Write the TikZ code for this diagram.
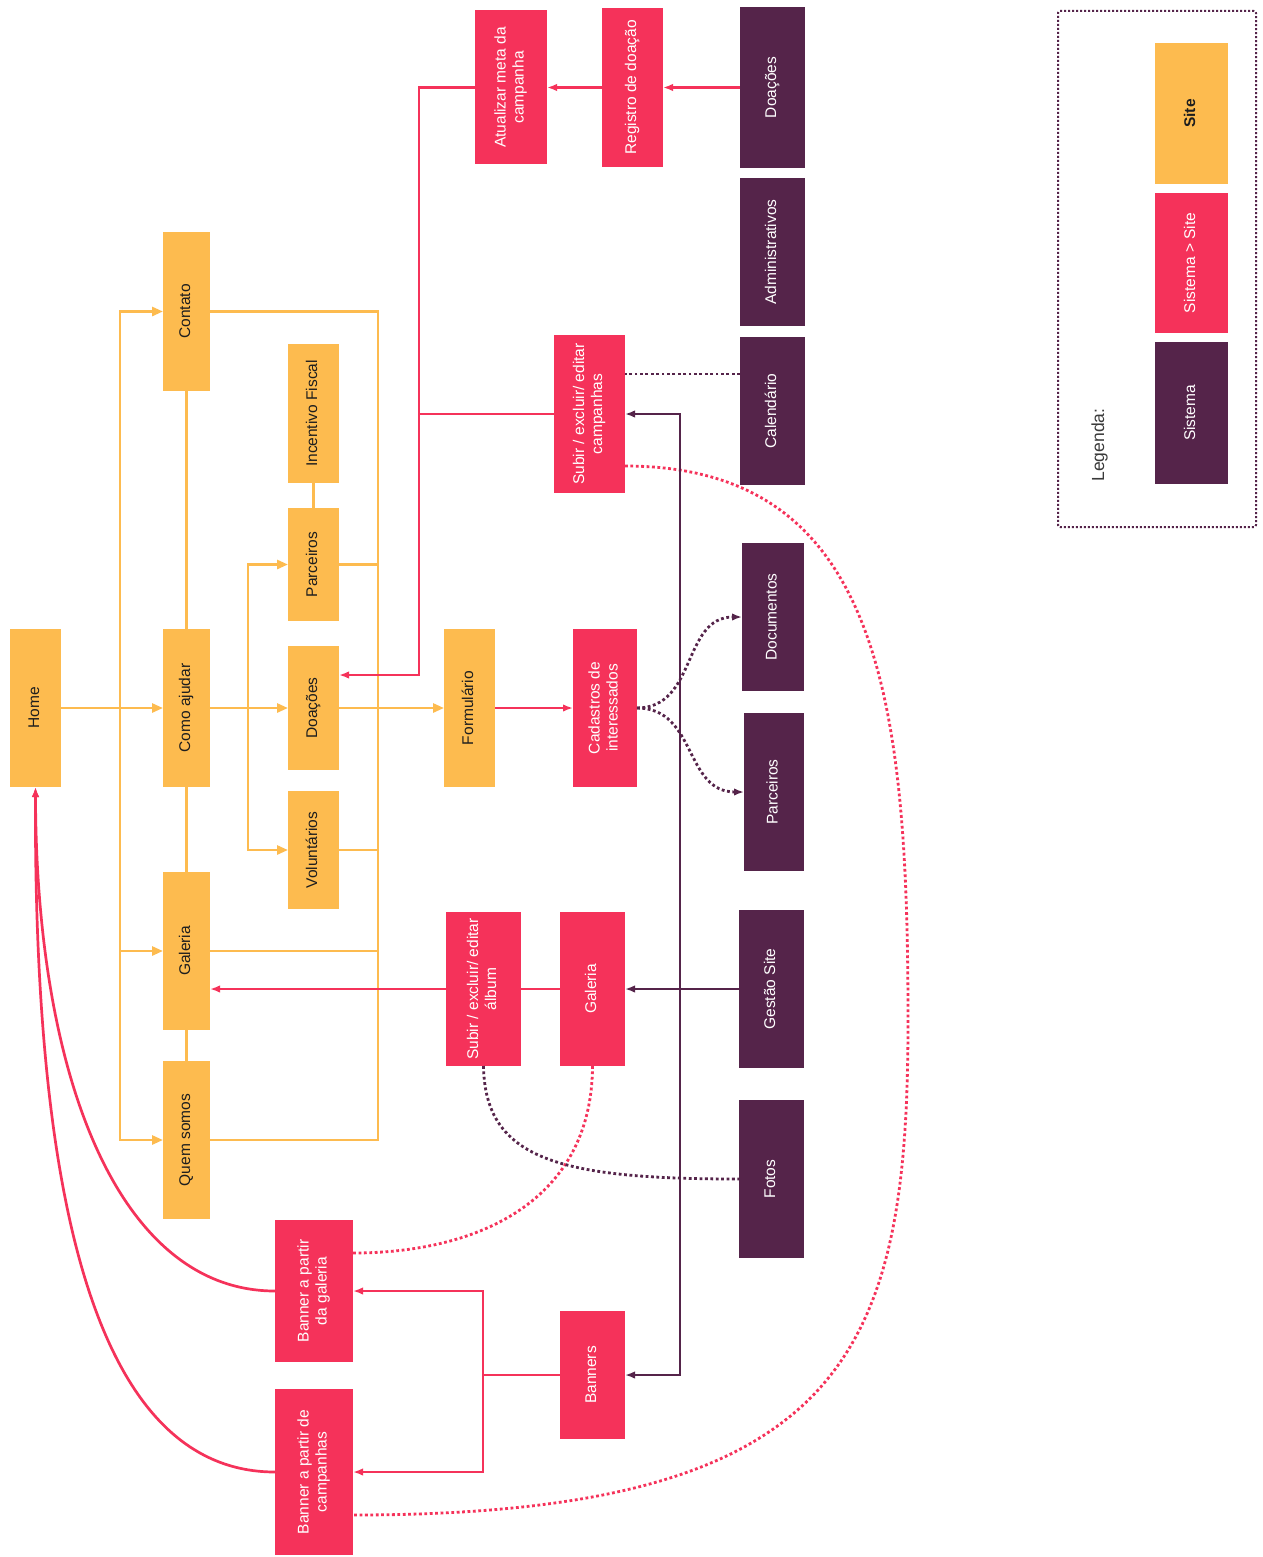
\documentclass[tikz,border=0pt]{standalone}
\usepackage{fontspec}
\setmainfont{Liberation Sans}
\usetikzlibrary{arrows.meta,calc}
\definecolor{cY}{HTML}{FDBB4F}
\definecolor{cR}{HTML}{F5325A}
\definecolor{cP}{HTML}{55244A}
\definecolor{cT}{HTML}{1E1E1E}
\definecolor{cG}{HTML}{3A3A3A}
\newcommand{\rt}[1]{\rotatebox{90}{\begin{tabular}{@{}c@{}}#1\end{tabular}}}
\begin{document}
\begin{tikzpicture}[x=1pt,y=-1pt,
  every node/.style={font=\fontsize{15.5}{18}\selectfont},
  box/.style={rectangle, inner sep=0pt, outer sep=0pt},
  ys/.style={box, fill=cY, text=cT},
  rs/.style={box, fill=cR, text=white},
  ps/.style={box, fill=cP, text=white},
  yl/.style={draw=cY, line width=2.7pt},
  yarr/.style={yl, -{Triangle[length=11pt,width=9pt]}},
  rl/.style={draw=cR, line width=2.7pt},
  rarr/.style={rl, -{Latex[length=10pt,width=7.5pt]}},
  pl/.style={draw=cP, line width=2.5pt},
  parr/.style={pl, -{Latex[length=10pt,width=7.5pt]}},
  rdot/.style={draw=cR, line width=2.8pt, dash pattern=on 2.8pt off 2.6pt},
  pdot/.style={draw=cP, line width=2.8pt, dash pattern=on 2.8pt off 2.6pt},
  pdotarr/.style={pdot, -{Latex[length=10pt,width=7.5pt]}},
]
\useasboundingbox (0,0) rectangle (1262,1557);
\fill[white] (0,0) rectangle (1262,1557);

% ---- Site (yellow) ----
\node[ys, minimum width=51pt, minimum height=158pt] (home) at (35.5,708) {\rt{Home}};
\node[ys, minimum width=47pt, minimum height=158pt] (como) at (186.5,708) {\rt{Como ajudar}};
\node[ys, minimum width=47pt, minimum height=159pt] (contato) at (186.5,311.5) {\rt{Contato}};
\node[ys, minimum width=47pt, minimum height=158pt] (galY) at (186.5,951) {\rt{Galeria}};
\node[ys, minimum width=47pt, minimum height=158pt] (quem) at (186.5,1140) {\rt{Quem somos}};
\node[ys, minimum width=51pt, minimum height=139pt] (incent) at (313.5,413.5) {\rt{Incentivo Fiscal}};
\node[ys, minimum width=51pt, minimum height=113pt] (parcY) at (313.5,564.5) {\rt{Parceiros}};
\node[ys, minimum width=51pt, minimum height=124pt] (doaY) at (313.5,708) {\rt{Doações}};
\node[ys, minimum width=51pt, minimum height=118pt] (volY) at (313.5,850) {\rt{Voluntários}};
\node[ys, minimum width=51pt, minimum height=158pt] (form) at (469.5,708) {\rt{Formulário}};

% ---- Sistema > Site (red) ----
\node[rs, minimum width=72pt, minimum height=154pt] (atu) at (511,87.5) {\rt{Atualizar meta da\\campanha}};
\node[rs, minimum width=61pt, minimum height=159pt] (reg) at (632.5,87.5) {\rt{Registro de doação}};
\node[rs, minimum width=71pt, minimum height=158pt] (camp) at (589.5,414) {\rt{Subir / excluir/ editar\\campanhas}};
\node[rs, minimum width=64pt, minimum height=158pt] (cad) at (605,708) {\rt{Cadastros de\\interessados}};
\node[rs, minimum width=75pt, minimum height=154pt] (album) at (483.5,989) {\rt{Subir / excluir/ editar\\álbum}};
\node[rs, minimum width=65pt, minimum height=154pt] (galR) at (592.5,989) {\rt{Galeria}};
\node[rs, minimum width=78pt, minimum height=142pt] (bgal) at (314,1291) {\rt{Banner a partir\\da galeria}};
\node[rs, minimum width=78pt, minimum height=166pt] (bcamp) at (314,1472) {\rt{Banner a partir de\\campanhas}};
\node[rs, minimum width=65pt, minimum height=128pt] (banners) at (592.5,1375) {\rt{Banners}};

% ---- Sistema (purple) ----
\node[ps, minimum width=65pt, minimum height=161pt] (doaP) at (772.5,87.5) {\rt{Doações}};
\node[ps, minimum width=65pt, minimum height=148pt] (adm) at (772.5,252) {\rt{Administrativos}};
\node[ps, minimum width=65pt, minimum height=148pt] (cal) at (772.5,411) {\rt{Calendário}};
\node[ps, minimum width=62pt, minimum height=148pt] (doc) at (773,617) {\rt{Documentos}};
\node[ps, minimum width=60pt, minimum height=158pt] (parcP) at (774,792) {\rt{Parceiros}};
\node[ps, minimum width=65pt, minimum height=158pt] (gest) at (771.5,989) {\rt{Gestão Site}};
\node[ps, minimum width=65pt, minimum height=158pt] (fotos) at (771.5,1179) {\rt{Fotos}};

% ---- Legend ----
\node[box, draw=cP, line width=2pt, dash pattern=on 2pt off 2pt, rounded corners=2pt,
      minimum width=198pt, minimum height=516pt] (legbox) at (1157,269) {};
\node[ys, minimum width=73pt, minimum height=141pt] (legSite) at (1191.5,113.5) {\rt{\textbf{Site}}};
\node[rs, minimum width=73pt, minimum height=140pt] (legSS) at (1191.5,263) {\rt{Sistema > Site}};
\node[ps, minimum width=73pt, minimum height=142pt] (legS) at (1191.5,413) {\rt{Sistema}};
\node[box, text=cG, font=\fontsize{17.5}{20}\selectfont] (legTitle) at (1100,445) {\rt{Legenda:}};

% ---- yellow connectors ----
\draw[yarr] (home.east) -- (como.west);
\coordinate (bL) at (120,708);
\draw[yarr] (bL) |- (contato.west);
\draw[yarr] (bL) |- (galY.west);
\draw[yarr] (bL) |- (quem.west);
\draw[yl] (como.north) -- (contato.south);
\draw[yl] (como.south) -- (galY.north);
\draw[yl] (galY.south) -- (quem.north);
\coordinate (bI) at (248,708);
\draw[yl] (como.east) -- (bI);
\draw[yarr] (bI) |- (parcY.west);
\draw[yarr] (bI) -- (doaY.west);
\draw[yarr] (bI) |- (volY.west);
\draw[yl] (parcY.north) -- (incent.south);
\coordinate (bRt) at (378,311.5);
\draw[yl] (contato.east) -- (bRt) |- (quem.east);
\draw[yl] (parcY.east) -- (parcY.east -| bRt);
\draw[yl] (volY.east) -- (volY.east -| bRt);
\draw[yl] (galY.east) -- (galY.east -| bRt);
\draw[yarr] (doaY.east) -- (form.west);

% ---- red connectors ----
\draw[rarr] (form.east) -- (cad.west);
\draw[rarr] (doaP.west) -- (reg.east);
\draw[rarr] (reg.west) -- (atu.east);
\coordinate (jD) at (419,675);
\draw[rarr] (atu.west) -| (jD) -- (jD -| doaY.east);
\draw[rl] (camp.west) -- (camp.west -| jD);
\draw[rl] (galR.west) -- (album.east);
\draw[rarr] (album.west) -- (album.west -| galY.east);
\coordinate (jB) at (483,1375);
\draw[rl] (banners.west) -- (jB);
\draw[rarr] (jB) |- (bgal.east);
\draw[rarr] (jB) |- (bcamp.east);
\draw[rarr] (bgal.west) .. controls (120,1291) and (36,1080) .. (home.south);
\draw[rarr] (bcamp.west) .. controls (80,1472) and (34,1150) .. (home.south);

% ---- red dotted ----
\coordinate (bgE) at ($(bgal.east)+(0,-38)$);
\draw[rdot] (galR.south) .. controls (592,1200) and (480,1253) .. (bgE);
\coordinate (cpE) at ($(camp.east)+(0,52)$);
\coordinate (bcE) at ($(bcamp.east)+(0,43)$);
\coordinate (mid) at (908,1020);
\draw[rdot] (cpE) .. controls (880,466) and (908,700) .. (mid) .. controls (908,1350) and (850,1515) .. (bcE);

% ---- purple connectors ----
\coordinate (jG) at (680,989);
\draw[parr] (gest.west) -- (galR.east);
\draw[parr] (jG) |- (camp.east);
\draw[parr] (jG) |- (banners.east);
\coordinate (clW) at ($(cal.west)+(0,-37)$);
\draw[pdot] (clW) -- (clW -| camp.east);
\draw[pdotarr] (cad.east) .. controls +(60,0) and +(-60,0) .. (doc.west);
\draw[pdotarr] (cad.east) .. controls +(60,0) and +(-60,0) .. (parcP.west);
\draw[pdot] (album.south) .. controls (485,1160) and (560,1179) .. (fotos.west);
\end{tikzpicture}
\end{document}
